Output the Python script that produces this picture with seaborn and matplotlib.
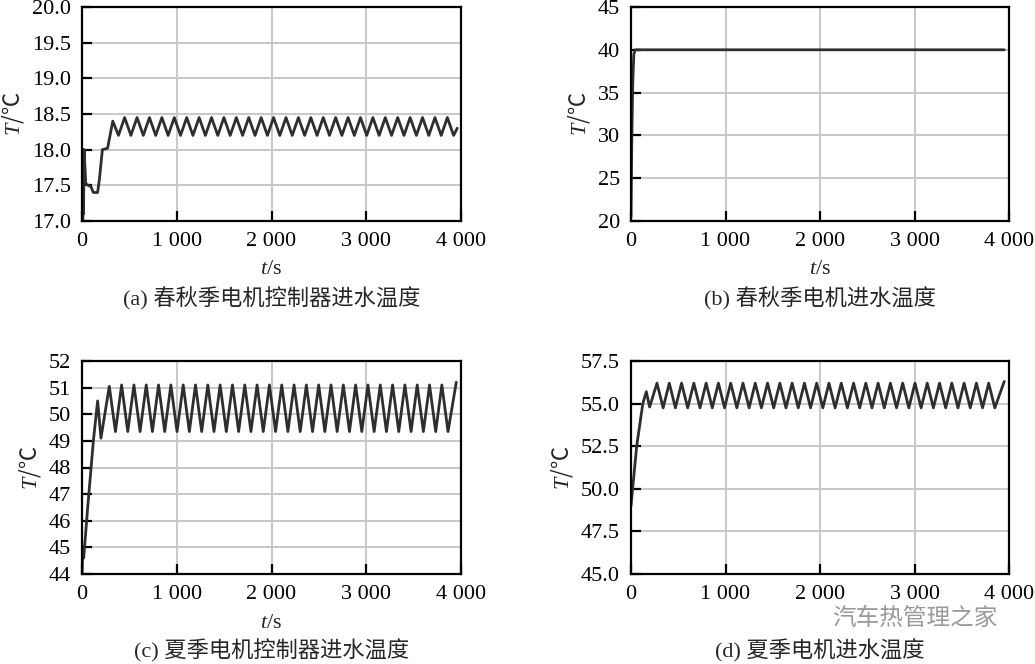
import numpy as np
import pandas as pd
import matplotlib
matplotlib.use("Agg")
import matplotlib.pyplot as plt
import seaborn as sns

# ---- data (t in s, T in degC) ----
# (a) spring/autumn, motor controller inlet
a_start_t = [0, 4, 8, 12, 16, 22, 40, 95, 120, 165, 185, 215, 270, 325]
a_start_T = [17.0, 18.0, 17.0, 18.0, 17.1, 18.0, 17.52, 17.48, 17.4, 17.4, 17.6, 18.0, 18.02, 18.4]
a_peak_t = [450, 581, 712, 843, 974, 1105, 1236, 1367, 1498, 1629, 1760, 1891, 2022, 2153,
            2284, 2415, 2546, 2677, 2808, 2939, 3070, 3201, 3332, 3463, 3594, 3725, 3856]
a_peak_T = [18.45] * 27
a_trough_t = [385, 516, 647, 778, 909, 1040, 1171, 1302, 1433, 1564, 1695, 1826, 1957, 2088,
              2219, 2350, 2481, 2612, 2743, 2874, 3005, 3136, 3267, 3398, 3529, 3660, 3791, 3922]
a_trough_T = [18.2] * 28
a_end_t = [3960]
a_end_T = [18.3]

# (b) spring/autumn, motor inlet
b_t = [0, 8, 18, 30, 45, 3950]
b_T = [20.5, 29.0, 36.0, 39.5, 40.0, 40.0]

# (c) summer, motor controller inlet
c_start_t = [0, 8, 18, 60, 120, 165, 200]
c_start_T = [44.0, 44.8, 44.6, 46.5, 49.0, 50.5, 49.1]
c_peak_t = [288, 418, 548, 678, 808, 938, 1068, 1198, 1328, 1458, 1588, 1718, 1848, 1978,
            2108, 2238, 2368, 2498, 2628, 2758, 2888, 3018, 3148, 3278, 3408, 3538, 3668, 3798]
c_peak_T = [51.05] + [51.1] * 27
c_trough_t = [353, 483, 613, 743, 873, 1003, 1133, 1263, 1393, 1523, 1653, 1783, 1913, 2043,
              2173, 2303, 2433, 2563, 2693, 2823, 2953, 3083, 3213, 3343, 3473, 3603, 3733, 3863]
c_trough_T = [49.35] * 28
c_end_t = [3950]
c_end_T = [51.2]

# (d) summer, motor inlet
d_start_t = [0, 60, 125, 162, 197]
d_start_T = [49.0, 52.5, 55.0, 55.7, 54.8]
d_peak_t = [275, 405, 535, 665, 795, 925, 1055, 1185, 1315, 1445, 1575, 1705, 1835, 1965,
            2095, 2225, 2355, 2485, 2615, 2745, 2875, 3005, 3135, 3265, 3395, 3525, 3655, 3785]
d_peak_T = [56.2] * 28
d_trough_t = [340, 470, 600, 730, 860, 990, 1120, 1250, 1380, 1510, 1640, 1770, 1900, 2030,
              2160, 2290, 2420, 2550, 2680, 2810, 2940, 3070, 3200, 3330, 3460, 3590, 3720, 3850]
d_trough_T = [54.75] * 28
d_end_t = [3950]
d_end_T = [56.3]

x_ticks = [0, 1000, 2000, 3000, 4000]
x_ticklabels = ["0", "1 000", "2 000", "3 000", "4 000"]

a_yticks = [17.0, 17.5, 18.0, 18.5, 19.0, 19.5, 20.0]
b_yticks = [20, 25, 30, 35, 40, 45]
c_yticks = [44, 45, 46, 47, 48, 49, 50, 51, 52]
d_yticks = [45.0, 47.5, 50.0, 52.5, 55.0, 57.5]

captions = ["(a) 春秋季电机控制器进水温度", "(b) 春秋季电机进水温度",
            "(c) 夏季电机控制器进水温度", "(d) 夏季电机进水温度"]
watermark = "汽车热管理之家"


def merge(*pairs):
    t = np.concatenate([p[0] for p in pairs]).astype(float)
    v = np.concatenate([p[1] for p in pairs]).astype(float)
    df = pd.DataFrame({"t": t, "T": v}).sort_values("t")
    return df


sns.set_style("ticks")
plt.rcParams["font.family"] = ["Liberation Serif", "Noto Sans CJK SC"]
plt.rcParams["mathtext.fontset"] = "custom"
plt.rcParams["mathtext.rm"] = "Liberation Serif"
plt.rcParams["mathtext.it"] = "Liberation Serif:italic"

fig = plt.figure(figsize=(10.35, 6.64), dpi=100)
W, H = 1035, 664

# axes boxes in pixels: left, top, right, bottom
boxes = [(82, 7, 461, 221), (631, 7, 1009, 221), (82, 361, 461, 574), (631, 361, 1009, 574)]

panels = [
    (merge((a_start_t, a_start_T), (a_peak_t, a_peak_T), (a_trough_t, a_trough_T), (a_end_t, a_end_T)),
     a_yticks, "{:.1f}"),
    (merge((b_t, b_T)), b_yticks, "{:d}"),
    (merge((c_start_t, c_start_T), (c_peak_t, c_peak_T), (c_trough_t, c_trough_T), (c_end_t, c_end_T)),
     c_yticks, "{:d}"),
    (merge((d_start_t, d_start_T), (d_peak_t, d_peak_T), (d_trough_t, d_trough_T), (d_end_t, d_end_T)),
     d_yticks, "{:.1f}"),
]

for i, ((df, yt, fmt), box, cap) in enumerate(zip(panels, boxes, captions)):
    l, t, r, b = box
    ax = fig.add_axes([l / W, 1 - b / H, (r - l) / W, (b - t) / H])
    sns.lineplot(data=df, x="t", y="T", ax=ax, color="#2e2e2e", lw=2.0,
                 estimator=None, sort=True)
    ax.set_xlim(0, 4000)
    ax.set_ylim(yt[0], yt[-1])
    ax.set_xticks(x_ticks)
    ax.set_xticklabels(x_ticklabels)
    ax.set_yticks(yt)
    ax.set_yticklabels([fmt.format(v) for v in yt])
    ax.grid(True, color="#c8c8c8", lw=1.4)
    ax.set_axisbelow(True)
    for s in ax.spines.values():
        s.set_visible(True)
        s.set_color("black")
        s.set_linewidth(1.6)
    ax.tick_params(direction="in", length=7, width=1.6, labelsize=16, pad=8, colors="black")
    ax.set_xlabel("")
    # non-math part drawn with the CJK font so that ℃ has a glyph
    ax.set_ylabel(r"$T$/℃", fontsize=16, labelpad=4, family="Noto Sans CJK SC")

    cx = (l + r) / 2 / W
    if i < 2:
        y_lab, y_cap = 270, 299
    else:
        y_lab, y_cap = 623, 651
    if i != 3:
        fig.text(cx, 1 - y_lab / H, r"$t$/s", ha="center", va="center", fontsize=16)
    fig.text(cx, 1 - y_cap / H, cap, ha="center", va="center", fontsize=16)

fig.text(915 / W, 1 - 618 / H, watermark, ha="center", va="center", fontsize=17,
         color="#9a9a9a", family=["Noto Sans CJK SC"])

fig.savefig("out.png", dpi=100)
